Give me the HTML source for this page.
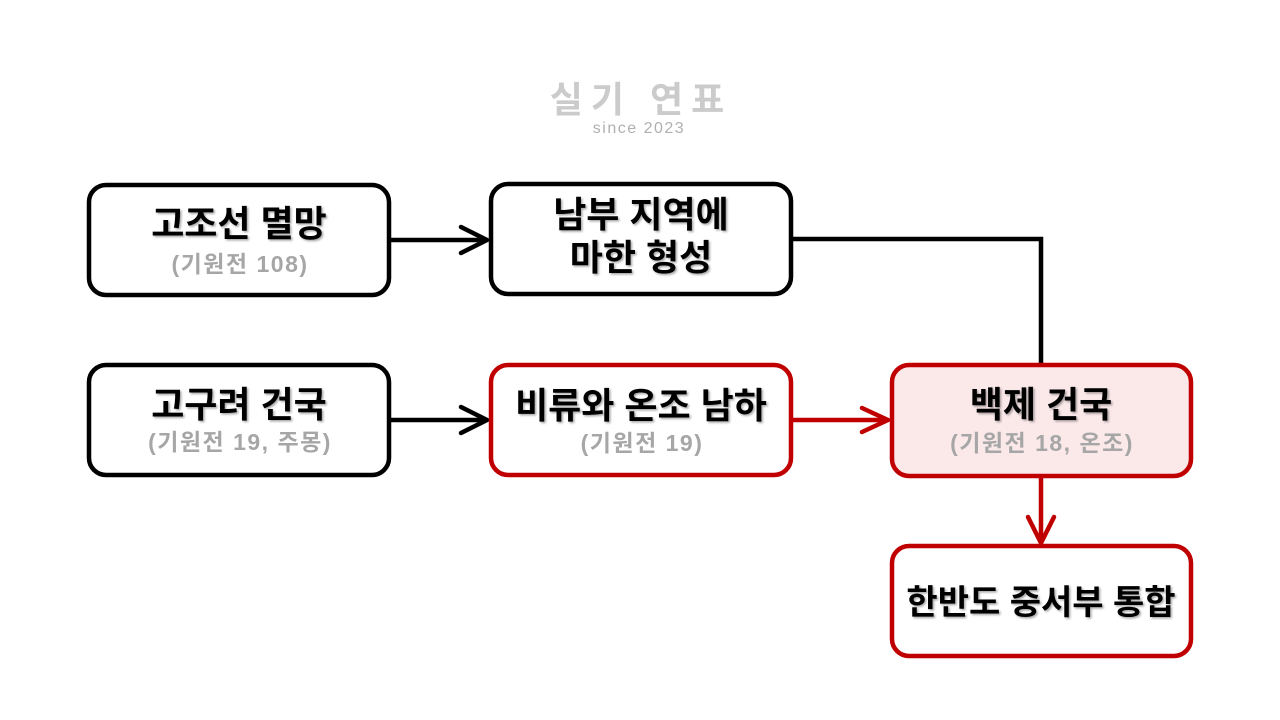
<!DOCTYPE html>
<html>
<head>
<meta charset="utf-8">
<style>
  html,body{margin:0;padding:0;background:#fff;}
  body{width:1280px;height:720px;overflow:hidden;}
  svg{display:block;}
  .t{font-family:"Liberation Sans","Noto Sans CJK KR","NanumGothic",sans-serif;font-weight:bold;font-size:36px;fill:#000;text-anchor:middle;}
  .s{font-family:"Liberation Sans","Noto Sans CJK KR","NanumGothic",sans-serif;font-weight:bold;font-size:23px;fill:#a6a6a6;text-anchor:middle;letter-spacing:1.5px;}
  .logo{font-family:"Liberation Sans","Noto Sans CJK KR","NanumGothic",sans-serif;font-weight:bold;font-size:36px;fill:#cbcbcb;text-anchor:middle;letter-spacing:8px;}
  .since{font-family:"Liberation Sans","DejaVu Sans",sans-serif;font-size:16px;fill:#b0b0b0;text-anchor:middle;letter-spacing:1.5px;}
</style>
</head>
<body>
<svg width="1280" height="720" viewBox="0 0 1280 720" xmlns="http://www.w3.org/2000/svg">
  <defs>
    <filter id="sh" x="-10%" y="-30%" width="120%" height="160%">
      <feDropShadow dx="1.5" dy="1.5" stdDeviation="1" flood-color="#000" flood-opacity="0.35"/>
    </filter>
  </defs>

  <!-- Logo -->
  <text class="logo" x="641" y="112">실기 연표</text>
  <text class="since" x="639" y="133">since 2023</text>

  <!-- Connectors -->
  <g fill="none" stroke-linecap="round" stroke-linejoin="round" stroke-width="4.5">
    <line x1="389" y1="240" x2="486" y2="240" stroke="#000"/>
    <polyline points="461,227 487,240 461,253" stroke="#000"/>
    <line x1="389" y1="420" x2="486" y2="420" stroke="#000"/>
    <polyline points="461,407 487,420 461,433" stroke="#000"/>
    <polyline points="791,239 1041,239 1041,365" stroke="#000" stroke-linecap="butt" stroke-linejoin="miter"/>
    <line x1="791" y1="420" x2="887" y2="420" stroke="#c00000"/>
    <polyline points="862,408 888,420 862,432" stroke="#c00000"/>
    <line x1="1041" y1="476" x2="1041" y2="542" stroke="#c00000"/>
    <polyline points="1028,517 1041,543 1054,517" stroke="#c00000"/>
  </g>

  <!-- Boxes -->
  <g stroke-width="4.5">
    <rect x="89" y="185" width="300" height="110" rx="17" fill="#fff" stroke="#000"/>
    <rect x="491" y="184" width="300" height="110" rx="17" fill="#fff" stroke="#000"/>
    <rect x="89" y="365" width="300" height="110" rx="17" fill="#fff" stroke="#000"/>
    <rect x="491" y="365" width="300" height="110" rx="17" fill="#fff" stroke="#c00000"/>
    <rect x="892" y="365" width="299" height="111" rx="17" fill="#fbe9ea" stroke="#c00000"/>
    <rect x="892" y="546" width="299" height="110" rx="17" fill="#fff" stroke="#c00000"/>
  </g>

  <!-- Texts -->
  <g filter="url(#sh)">
    <text class="t" x="239" y="236">고조선 멸망</text>
    <text class="t" x="641" y="227">남부 지역에</text>
    <text class="t" x="641" y="270">마한 형성</text>
    <text class="t" x="239" y="417">고구려 건국</text>
    <text class="t" x="641" y="418">비류와 온조 남하</text>
    <text class="t" x="1041" y="417">백제 건국</text>
    <text class="t" x="1041" y="614" style="font-size:34px">한반도 중서부 통합</text>
  </g>
  <g>
    <text class="s" x="240" y="272">(기원전 108)</text>
    <text class="s" x="240" y="450">(기원전 19, 주몽)</text>
    <text class="s" x="642" y="451">(기원전 19)</text>
    <text class="s" x="1042" y="451">(기원전 18, 온조)</text>
  </g>
</svg>
</body>
</html>
